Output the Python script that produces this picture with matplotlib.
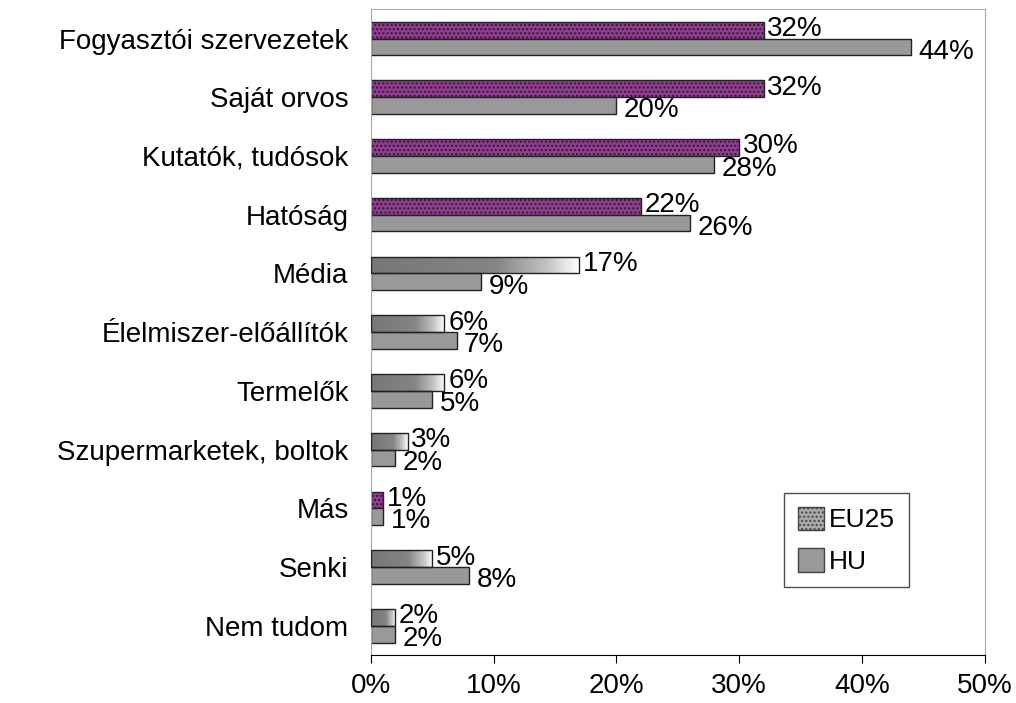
import numpy as np
import matplotlib.pyplot as plt
from matplotlib.colors import LinearSegmentedColormap
from matplotlib.patches import Patch

plt.rcParams["font.family"] = ["Liberation Sans", "DejaVu Sans"]

categories = [
    "Fogyasztói szervezetek", "Saját orvos", "Kutatók, tudósok", "Hatóság",
    "Média", "Élelmiszer-előállítók", "Termelők", "Szupermarketek, boltok",
    "Más", "Senki", "Nem tudom",
]
eu25 = [32, 32, 30, 22, 17, 6, 6, 3, 1, 5, 2]
hu = [44, 20, 28, 26, 9, 7, 5, 2, 1, 8, 2]
# EU25 bars drawn in purple (others get the grey gradient fill)
eu_purple = [True, True, True, True, False, False, False, False, True, False, False]
ticks = [0, 10, 20, 30, 40, 50]

fig = plt.figure(figsize=(10.16, 7.03), dpi=100)
ax = fig.add_axes([0.365, 0.068, 0.604, 0.919])

y = np.arange(len(categories))
h = 0.285
grad = LinearSegmentedColormap.from_list(
    "g", [(0, "#777777"), (0.6, "#858585"), (0.85, "#c4c4c4"), (1, "#ffffff")])

for i in range(len(categories)):
    ye = y[i] - h / 2
    yh = y[i] + h / 2
    if eu_purple[i]:
        ax.barh(ye, eu25[i], height=h, color="#933a93", edgecolor="#222222",
                linewidth=1, hatch="....", zorder=2)
    else:
        bar = ax.barh(ye, eu25[i], height=h, color="none", edgecolor="#222222",
                      linewidth=1, zorder=3)[0]
        img = ax.imshow(np.linspace(0, 1, 100).reshape(1, -1), cmap=grad,
                        aspect="auto", extent=(0, eu25[i], ye + h / 2, ye - h / 2),
                        zorder=2)
        img.set_clip_path(bar)
    ax.barh(yh, hu[i], height=h, color="#999999", edgecolor="#222222",
            linewidth=1, zorder=2)
    ax.text(eu25[i] + 0.3, ye - 0.02, f"{eu25[i]}%", fontsize=20,
            va="center", ha="left")
    ax.text(hu[i] + 0.6, yh + 0.08, f"{hu[i]}%", fontsize=20,
            va="center", ha="left")

ax.set_xlim(0, 50)
ax.set_ylim(len(categories) - 0.5, -0.5)
ax.set_yticks(y)
ax.set_yticklabels(categories, fontsize=20)
ax.set_xticks(ticks)
ax.set_xticklabels([f"{t}%" for t in ticks], fontsize=20)
ax.tick_params(axis="y", length=0, pad=16)
ax.tick_params(axis="x", length=6, direction="out", pad=7)
for side in ["top", "right", "left"]:
    ax.spines[side].set_color("#aaaaaa")

handles = [Patch(facecolor="#aaaaaa", edgecolor="#444444", hatch="...."),
           Patch(facecolor="#999999", edgecolor="#444444")]
leg = ax.legend(handles, ["EU25", "HU"], loc="lower left",
                bbox_to_anchor=(0.674, 0.105), borderaxespad=0, fontsize=19,
                frameon=True, fancybox=False, edgecolor="#222222",
                handlelength=1.0, handleheight=1.0, handletextpad=0.2,
                borderpad=0.5, labelspacing=0.6)
leg.get_frame().set_linewidth(1)

fig.savefig("out.png", dpi=100)
